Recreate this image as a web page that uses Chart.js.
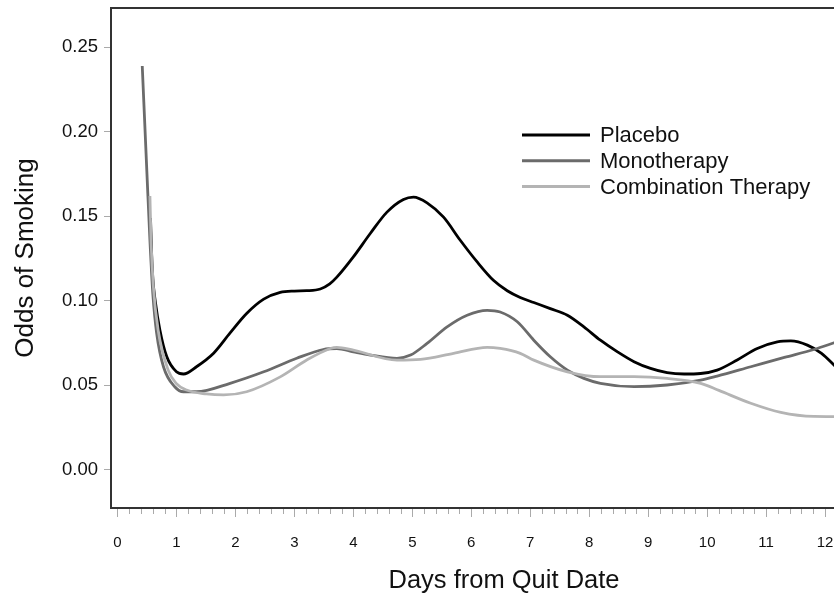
<!DOCTYPE html>
<html>
<head>
<meta charset="utf-8">
<script src="https://cdn.jsdelivr.net/npm/chart.js@4.4.1/dist/chart.umd.min.js"></script>
<style>
  html, body { margin: 0; padding: 0; background: #fff; overflow: hidden; }
  #wrap { width: 900px; height: 597px; }
</style>
</head>
<body>
<div id="wrap"><canvas id="c" width="900" height="597"></canvas></div>
<script>
// ---- Data ----
const seriesNames = ['Placebo', 'Monotherapy', 'Combination Therapy'];
const seriesColors = ['#000000', '#6b6b6b', '#b4b4b4'];

const placeboDays = [0.56, 0.58, 0.60, 0.64, 0.72, 0.835, 1.0, 1.12, 1.34, 1.63, 1.91, 2.19, 2.48, 2.76, 3.0, 3.21, 3.44, 3.6, 3.72, 4.0, 4.29, 4.57, 4.85, 5.02, 5.25, 5.53, 5.81, 6.10, 6.38, 6.61, 6.83, 7.06, 7.34, 7.63, 7.91, 8.19, 8.48, 8.76, 9.04, 9.32, 9.61, 9.89, 10.17, 10.51, 10.85, 11.19, 11.42, 11.70, 11.94, 12.18];
const placeboOdds = [0.149, 0.127, 0.113, 0.100, 0.0826, 0.067, 0.058, 0.0567, 0.061, 0.069, 0.081, 0.0925, 0.101, 0.105, 0.1058, 0.106, 0.107, 0.110, 0.114, 0.126, 0.140, 0.1525, 0.160, 0.1614, 0.158, 0.1495, 0.136, 0.123, 0.112, 0.106, 0.102, 0.099, 0.0954, 0.0915, 0.0846, 0.0767, 0.0698, 0.064, 0.060, 0.0575, 0.0567, 0.057, 0.059, 0.065, 0.0718, 0.0757, 0.0763, 0.0738, 0.0689, 0.061];

const monoDays = [0.42, 0.50, 0.55, 0.60, 0.665, 0.78, 0.975, 1.12, 1.34, 1.91, 2.48, 3.04, 3.49, 3.72, 4.0, 4.29, 4.74, 4.97, 5.25, 5.59, 5.93, 6.27, 6.49, 6.78, 7.06, 7.34, 7.63, 7.91, 8.19, 8.76, 9.32, 9.89, 10.17, 10.74, 11.31, 11.81, 12.18];
const monoOdds = [0.239, 0.175, 0.136, 0.104, 0.0807, 0.061, 0.049, 0.0462, 0.0462, 0.0512, 0.058, 0.066, 0.0712, 0.0718, 0.0698, 0.0679, 0.066, 0.0679, 0.0748, 0.0846, 0.0915, 0.0944, 0.0934, 0.0876, 0.0767, 0.0669, 0.059, 0.0541, 0.0512, 0.0492, 0.0502, 0.0531, 0.0555, 0.061, 0.0665, 0.0712, 0.0755];

const comboDays = [0.55, 0.57, 0.61, 0.69, 0.86, 1.0, 1.17, 1.51, 1.80, 2.19, 2.76, 3.21, 3.61, 3.72, 4.0, 4.74, 5.14, 5.70, 6.27, 6.49, 6.83, 7.06, 7.63, 8.19, 8.76, 9.32, 9.89, 10.2, 10.74, 11.25, 11.81, 12.18];
const comboOdds = [0.162, 0.135, 0.108, 0.0826, 0.059, 0.051, 0.0472, 0.0449, 0.0443, 0.0462, 0.055, 0.065, 0.0718, 0.0725, 0.0708, 0.0649, 0.0653, 0.0689, 0.0725, 0.0718, 0.0689, 0.0649, 0.058, 0.0551, 0.0551, 0.0541, 0.0512, 0.047, 0.0394, 0.034, 0.0316, 0.0315];

const xTickValues = [0, 1, 2, 3, 4, 5, 6, 7, 8, 9, 10, 11, 12, 13];
const yTickValues = [0, 0.05, 0.10, 0.15, 0.20, 0.25];
const xTitle = 'Days from Quit Date';
const yTitle = 'Odds of Smoking';

// ---- Build datasets ----
function pts(xs, ys) { return xs.map((x, i) => ({ x: x, y: ys[i] })); }
const seriesPoints = [pts(placeboDays, placeboOdds), pts(monoDays, monoOdds), pts(comboDays, comboOdds)];

const font = "'Liberation Sans', Arial, sans-serif";

const frameAndMinor = {
  id: 'frameAndMinor',
  afterDraw(chart) {
    const ctx = chart.ctx;
    const a = chart.chartArea;
    const xs = chart.scales.x;
    ctx.save();
    // top frame line
    ctx.strokeStyle = '#333';
    ctx.lineWidth = 2;
    ctx.beginPath();
    ctx.moveTo(a.left - 1, a.top);
    ctx.lineTo(a.right, a.top);
    ctx.stroke();
    // minor ticks on x axis every 0.2
    ctx.strokeStyle = '#aaaaaa';
    ctx.lineWidth = 1;
    for (let k = 1; k * 0.2 <= xs.max; k++) {
      if (k % 5 === 0) continue;
      const px = Math.round(xs.getPixelForValue(k * 0.2)) + 0.5;
      ctx.beginPath();
      ctx.moveTo(px, a.bottom + 1);
      ctx.lineTo(px, a.bottom + 6);
      ctx.stroke();
    }
    // legend (in series order)
    ctx.font = "22px " + font;
    ctx.textBaseline = 'middle';
    ctx.textAlign = 'left';
    seriesNames.forEach((name, i) => {
      const y = 135 + i * 25.8;
      ctx.strokeStyle = seriesColors[i];
      ctx.lineWidth = 3;
      ctx.beginPath();
      ctx.moveTo(522, y);
      ctx.lineTo(590, y);
      ctx.stroke();
      ctx.fillStyle = '#111';
      ctx.fillText(name, 600, y + 1);
    });
    ctx.restore();
  }
};

new Chart(document.getElementById('c'), {
  type: 'line',
  data: {
    datasets: seriesNames.map((name, i) => ({
      label: name,
      data: seriesPoints[i],
      borderColor: seriesColors[i],
      backgroundColor: seriesColors[i],
      borderWidth: 2.8,
      pointRadius: 0,
      fill: false,
      cubicInterpolationMode: 'monotone'
    })).reverse()
  },
  options: {
    responsive: false,
    animation: false,
    devicePixelRatio: 1,
    layout: { padding: { top: 8, right: 3, left: 0, bottom: 0 } },
    plugins: { legend: { display: false }, tooltip: { enabled: false } },
    scales: {
      x: {
        type: 'linear',
        min: -0.11,
        max: 13.22,
        afterBuildTicks: (s) => { s.ticks = xTickValues.map(v => ({ value: v })); },
        afterFit: (s) => { s.height = 89; s.paddingLeft = 0; s.paddingRight = 0; },
        grid: { drawOnChartArea: false, drawTicks: true, tickLength: 9, tickColor: '#aaaaaa', tickWidth: 1 },
        border: { display: true, color: '#333', width: 2 },
        ticks: { color: '#111', font: { family: font, size: 15 }, padding: 17, maxRotation: 0, autoSkip: false,
                 callback: (v) => String(v) },
        title: { display: true, text: xTitle, color: '#111', font: { family: font, size: 25.5 }, padding: { top: 0, bottom: 1 } }
      },
      y: {
        type: 'linear',
        min: -0.0226,
        max: 0.2733,
        afterBuildTicks: (s) => { s.ticks = yTickValues.map(v => ({ value: v })); },
        afterFit: (s) => { s.width = 111; s.paddingTop = 0; s.paddingBottom = 0; },
        grid: { drawOnChartArea: false, drawTicks: true, tickLength: 7, tickColor: '#aaaaaa', tickWidth: 1 },
        border: { display: true, color: '#333', width: 2 },
        ticks: { color: '#111', font: { family: font, size: 18.5 }, padding: 6,
                 callback: (v) => Number(v).toFixed(2) },
        title: { display: true, text: yTitle, color: '#111', font: { family: font, size: 26 }, padding: { top: 10, bottom: 0 } }
      }
    }
  },
  plugins: [frameAndMinor]
});
</script>
</body>
</html>
